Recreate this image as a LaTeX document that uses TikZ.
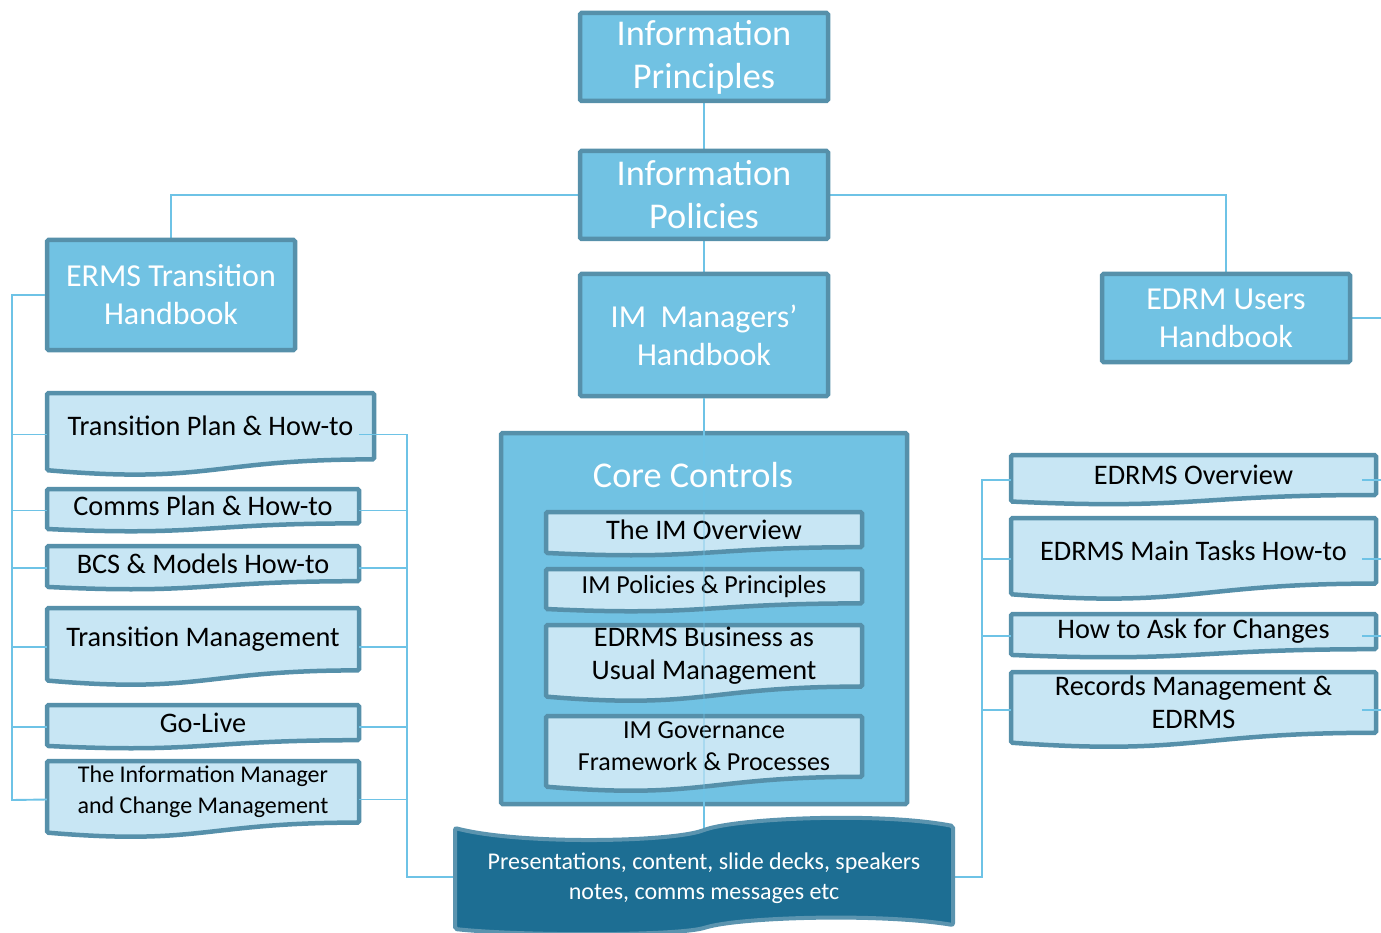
\documentclass[tikz,border=0pt]{standalone}
\usepackage{fontspec}
\setmainfont{Carlito}
\usetikzlibrary{calc,backgrounds}
\definecolor{boxfill}{HTML}{71C2E3}
\definecolor{boxdraw}{HTML}{5690AA}
\definecolor{docfill}{HTML}{C8E6F4}
\definecolor{linec}{HTML}{6EC3E6}
\definecolor{banfill}{HTML}{1D6E93}
\definecolor{bandraw}{HTML}{5B94AF}
\tikzset{
 hbox/.style={draw=boxdraw, fill=boxfill, line width=4.5pt, rounded corners=1.5pt, text=white, align=center, inner sep=0pt},
 conn/.style={draw=linec, line width=1.9pt},
 docshape/.style={draw=boxdraw, fill=docfill, line width=4.5pt, rounded corners=1.5pt},
 docframe/.style={inner sep=0pt, draw=none},
 doctext/.style={align=center, inner sep=0pt, text=black},
 bigf/.style={font=\fontsize{36.3}{43}\selectfont},
 midf/.style={font=\fontsize{32}{38}\selectfont},
 docf/.style={font=\fontsize{28.3}{33}\selectfont},
 medf/.style={font=\fontsize{26}{32}\selectfont},
 smf/.style={font=\fontsize{24}{30.5}\selectfont},
}
% name, x1, y1, x2, y2, style, text
\newcommand\docbox[7]{%
 \draw[docshape] (#2,#3) -- (#4,#3) -- (#4,{#3+0.80*(#5-#3)}) .. controls ({(#2+#4)/2},{#3+0.80*(#5-#3)}) and ({(#2+#4)/2},{#3+1.10*(#5-#3)}) .. (#2,{#3+0.93*(#5-#3)}) -- cycle;
 \node[docframe, minimum width={#4-#2}, minimum height={#5-#3}] (#1) at ({(#2+#4)/2},{(#3+#5)/2}) {};
 \node[doctext, #6] (#1t) at ({(#2+#4)/2},{#3+0.40*(#5-#3)}) {#7};
}
\begin{document}
\begin{tikzpicture}[x=1pt,y=-1pt]
\useasboundingbox (0,0) rectangle (1381,933);
% named helper coordinates
\coordinate (lbus) at (12,800);
\coordinate (lrb) at (407,877);
\coordinate (rrb) at (982,877);
\coordinate (bantop) at (704,829);
\coordinate (edgeE) at (1381,318);
% header boxes
\node[hbox, bigf, minimum width=248, minimum height=88] (ip) at (704,57) {Information\\Principles};
\node[hbox, bigf, minimum width=248, minimum height=88] (ipol) at (704,195) {Information\\Policies};
\node[hbox, midf, minimum width=248, minimum height=122] (imm) at (704,335) {IM\ \ Managers'\\Handbook};
\node[hbox, midf, minimum width=248, minimum height=110] (eth) at (171,295) {ERMS Transition\\Handbook};
\node[hbox, midf, minimum width=248, minimum height=88] (edu) at (1226,318) {EDRM Users\\Handbook};
\begin{scope}[on background layer]
\draw[conn] (ip.south) -- (ipol.north);
\draw[conn] (ipol.south) -- (imm.north);
\draw[conn] (ipol.west) -| (eth.north);
\draw[conn] (ipol.east) -| (edu.north);
\draw[conn] (edu.east) -- (edgeE);
\end{scope}
% core controls
\node[hbox, minimum width=406, minimum height=371] (core) at (704,618.5) {};
\draw[conn] (imm.south) -- (bantop);
\node[text=white, bigf, inner sep=0pt] (coret) at (693,475) {Core Controls};
\docbox{c1}{546}{512}{862}{556}{docf}{The IM Overview}
\docbox{c2}{546}{569}{862}{612}{medf}{IM Policies \& Principles}
\docbox{c3}{546}{625}{862}{702}{docf}{EDRMS Business as\\Usual Management}
\docbox{c4}{546}{716}{862}{792}{medf}{IM Governance\\Framework \& Processes}
\draw[linec, line width=1.5pt, opacity=0.35] (c1.north) -- (c4.south);
% left documents
\docbox{lc1}{47}{393}{374}{476}{docf}{Transition Plan \& How-to}
\docbox{lc2}{47}{489}{359}{532}{docf}{Comms Plan \& How-to}
\docbox{lc3}{47}{546}{359}{590}{docf}{BCS \& Models How-to}
\docbox{lc4}{47}{608}{359}{686}{docf}{Transition Management}
\docbox{lc5}{47}{705}{359}{749}{docf}{Go-Live}
\docbox{lc6}{47}{761}{359}{838}{smf}{The Information Manager\\and Change Management}
% right documents
\docbox{rc1}{1011}{455}{1376}{505}{docf}{EDRMS Overview}
\docbox{rc2}{1011}{518}{1376}{600}{docf}{EDRMS Main Tasks How-to}
\docbox{rc3}{1011}{614}{1376}{658}{docf}{How to Ask for Changes}
\docbox{rc4}{1011}{672}{1376}{748}{docf}{Records Management \&\\EDRMS}
% banner frame
\node[inner sep=0pt, minimum width=498, minimum height=100] (ban) at (704,877) {};
% left bus
\draw[conn] (eth.west) -| (lbus) -- (lc6.west);
\foreach \n in {lc1,lc2,lc3,lc4,lc5}{\draw[conn] (lbus |- \n.west) -- (\n.west);}
\draw[conn] ([xshift=-15pt]lc1.east) -| (lrb) -- (ban.west);
\foreach \n in {lc2,lc3,lc4,lc5,lc6}{\draw[conn] (\n.east) -- (lrb |- \n.east);}
% right bus
\draw[conn] (ban.east) -- (rrb) |- (rc1.west);
\foreach \n in {rc2,rc3,rc4}{\draw[conn] (rrb |- \n.west) -- (\n.west);}
\foreach \n in {rc1,rc2,rc3,rc4}{\draw[conn] ([xshift=-14pt]\n.east) -- (edgeE |- \n.east);}
% banner shape
\draw[fill=banfill, draw=bandraw, line width=4pt, rounded corners=2pt]
  (455,828) .. controls (520,845) and (670,842) .. (704,830)
  .. controls (740,818) and (880,812) .. (953,826)
  -- (953,925) .. controls (880,913) and (740,917) .. (704,928)
  .. controls (670,936) and (520,936) .. (455,929) -- cycle;
\node[text=white, align=center, inner sep=0pt, font=\fontsize{24}{30}\selectfont] (bant) at (704,878) {Presentations, content, slide decks, speakers\\notes, comms messages etc};
\end{tikzpicture}
\end{document}
